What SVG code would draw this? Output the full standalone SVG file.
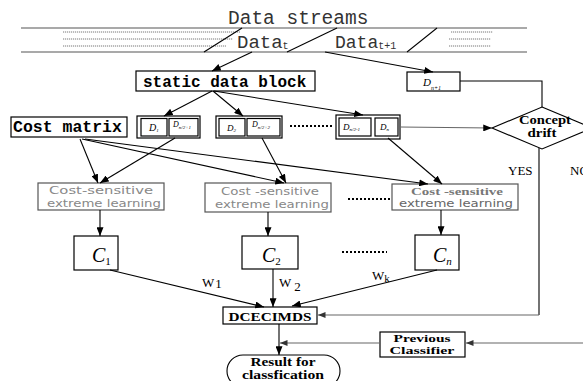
<svg xmlns="http://www.w3.org/2000/svg" width="583" height="381" viewBox="0 0 583 381">
  <style>
    .box { fill: #fff; stroke: #000; stroke-width: 1.2; }
    .gbox { fill: #fff; stroke: #555; stroke-width: 1.2; }
    .ln { fill: none; stroke: #000; stroke-width: 1.1; }
    .gln { fill: none; stroke: #666; stroke-width: 1.1; }
    .dots { fill: none; stroke: #555; stroke-width: 0.8; stroke-dasharray: 1.2 0.8; }
    .bdots { fill: none; stroke: #000; stroke-width: 2.2; stroke-dasharray: 2 2; }
    .mono { font-family: "Liberation Mono", "DejaVu Sans Mono", monospace; fill: #333; }
    .monob { font-family: "Liberation Mono", "DejaVu Sans Mono", monospace; font-weight: bold; fill: #000; }
    .serif { font-family: "Liberation Serif", "DejaVu Serif", serif; fill: #000; }
    .serifb { font-family: "Liberation Serif", "DejaVu Serif", serif; font-weight: bold; fill: #000; }
    .sans { font-family: "DejaVu Sans", "Liberation Sans", sans-serif; fill: #888; font-size: 11px; }
    .it { font-style: italic; }
  </style>
  <defs>
    <marker id="ah" viewBox="0 0 10 8" refX="10" refY="4" markerWidth="9" markerHeight="7" markerUnits="userSpaceOnUse" orient="auto">
      <path d="M0,0 L10,4 L0,8 z" fill="#000"/>
    </marker>
    <marker id="gah" viewBox="0 0 10 8" refX="10" refY="4" markerWidth="9" markerHeight="6" markerUnits="userSpaceOnUse" orient="auto">
      <path d="M0,0 L10,4 L0,8 z" fill="#333"/>
    </marker>
  </defs>

  <!-- data stream band -->
  <g id="stream">
    <text class="mono" x="228" y="24" font-size="19.5">Data streams</text>
    <line x1="21" y1="28" x2="527" y2="28" stroke="#555" stroke-width="1.2"/>
    <line x1="21" y1="52" x2="527" y2="52" stroke="#555" stroke-width="1.2"/>
    <path class="dots" d="M63,32 H240 M63,39 H233 M63,46 H226"/>
    <path class="dots" d="M451,32 H493 M449,39 H491 M449,46 H491"/>
    <line class="ln" x1="242" y1="28" x2="204" y2="52"/>
    <line class="ln" x1="337" y1="28" x2="287" y2="52"/>
    <line class="ln" x1="437" y1="28" x2="407" y2="52"/>
    <text class="mono" x="237" y="48" font-size="19">Data<tspan font-size="10" dy="1">t</tspan></text>
    <text class="mono" x="335" y="48" font-size="18">Data<tspan font-size="10" dy="1">t+1</tspan></text>
  </g>

  <g id="static-block">
    <rect class="box" x="136" y="71" width="179" height="20"/>
    <text class="monob" x="143" y="87" font-size="16">static data block</text>
  </g>

  <g id="d-next">
    <rect class="box" x="407" y="72" width="53" height="19"/>
    <text class="serif it" x="423" y="86" font-size="11">D<tspan font-size="6" dy="4">n+1</tspan></text>
  </g>

  <g id="cost-matrix">
    <rect class="box" x="11" y="117" width="116" height="20"/>
    <text class="monob" x="13" y="132" font-size="16.5">Cost matrix</text>
  </g>

  <g id="blocks-1">
    <rect class="box" x="137" y="116" width="63" height="22"/>
    <rect class="box" x="141" y="118.5" width="26" height="17.5"/>
    <rect class="box" x="169" y="118.5" width="29" height="17.5"/>
    <text class="serif it" x="149" y="131" font-size="10">D<tspan font-size="5" dy="1">1</tspan></text>
    <text class="serif it" x="173" y="127" font-size="8">D<tspan font-size="5" dy="2">n/2+1</tspan></text>
  </g>

  <g id="blocks-2">
    <rect class="box" x="216" y="116" width="66" height="22"/>
    <rect class="box" x="219" y="118.5" width="26" height="17.5"/>
    <rect class="box" x="247" y="118.5" width="33" height="17.5"/>
    <text class="serif it" x="227" y="131" font-size="9">D<tspan font-size="5" dy="1">2</tspan></text>
    <text class="serif it" x="252" y="127" font-size="8">D<tspan font-size="5" dy="2">n/2+2</tspan></text>
  </g>

  <g id="blocks-3">
    <rect class="box" x="336" y="115" width="64" height="24"/>
    <rect class="box" x="339" y="118" width="32" height="18"/>
    <rect class="box" x="375" y="118" width="23" height="18"/>
    <text class="serif it" x="343" y="130" font-size="9">D<tspan font-size="5" dy="1">n/2-1</tspan></text>
    <text class="serif it" x="380" y="130" font-size="9">D<tspan font-size="5" dy="1">n</tspan></text>
  </g>

  <g id="concept-drift">
    <polygon points="542,107 592,128 542,149 492,128" fill="#fff" stroke="#000" stroke-width="1.1"/>
    <text class="serifb" x="545" y="124" font-size="12" text-anchor="middle" textLength="52" lengthAdjust="spacingAndGlyphs">Concept</text>
    <text class="serifb" x="542" y="137" font-size="12" text-anchor="middle" textLength="29" lengthAdjust="spacingAndGlyphs">drift</text>
  </g>

  <g id="csel-1">
    <rect class="gbox" x="38" y="183" width="126" height="27"/>
    <text class="sans" x="101" y="194" text-anchor="middle" textLength="104" lengthAdjust="spacingAndGlyphs">Cost-sensitive</text>
    <text class="sans" x="104" y="207" text-anchor="middle" textLength="114" lengthAdjust="spacingAndGlyphs">extreme learning</text>
  </g>

  <g id="csel-2">
    <rect class="gbox" x="205" y="183" width="126" height="29"/>
    <text class="sans" x="270" y="195" text-anchor="middle" textLength="98" lengthAdjust="spacingAndGlyphs">Cost -sensitive</text>
    <text class="sans" x="272" y="208" text-anchor="middle" textLength="114" lengthAdjust="spacingAndGlyphs">extreme learning</text>
  </g>

  <g id="csel-3">
    <rect class="gbox" x="392" y="184" width="126" height="26"/>
    <text class="serifb" x="457" y="195" font-size="11" text-anchor="middle" textLength="92" lengthAdjust="spacingAndGlyphs" style="fill:#777">Cost -sensitive</text>
    <text class="sans" x="456" y="207" text-anchor="middle" textLength="114" lengthAdjust="spacingAndGlyphs" style="fill:#666">extreme learning</text>
  </g>

  <g id="c1">
    <rect class="box" x="74" y="236" width="44" height="34"/>
    <text class="serif it" x="92" y="262" font-size="20">C<tspan font-size="11" font-style="normal" dy="3">1</tspan></text>
  </g>
  <g id="c2">
    <rect class="box" x="242" y="236" width="56" height="33"/>
    <text class="serif it" x="262" y="262" font-size="20">C<tspan font-size="11" font-style="normal" dy="3">2</tspan></text>
  </g>
  <g id="cn">
    <rect class="box" x="415" y="235" width="44" height="35"/>
    <text class="serif it" x="433" y="262" font-size="20">C<tspan font-size="11" dy="3">n</tspan></text>
  </g>

  <g id="dcecimds">
    <rect class="box" x="223" y="307" width="94" height="17"/>
    <text class="serifb" x="270" y="321" font-size="11.5" text-anchor="middle" textLength="83" lengthAdjust="spacingAndGlyphs">DCECIMDS</text>
  </g>

  <g id="previous-classifier">
    <rect class="box" x="380" y="332" width="85" height="25"/>
    <text class="serifb" x="422" y="342" font-size="11" text-anchor="middle" textLength="57" lengthAdjust="spacingAndGlyphs">Previous</text>
    <text class="serifb" x="422" y="354" font-size="11" text-anchor="middle" textLength="65" lengthAdjust="spacingAndGlyphs">Classifier</text>
  </g>

  <g id="result">
    <rect x="227" y="355" width="113" height="32" rx="16" ry="16" fill="#fff" stroke="#000" stroke-width="1.1"/>
    <text class="serifb" x="283" y="366" font-size="11.5" text-anchor="middle" textLength="65" lengthAdjust="spacingAndGlyphs">Result for</text>
    <text class="serifb" x="283" y="379" font-size="11.5" text-anchor="middle" textLength="82" lengthAdjust="spacingAndGlyphs">classfication</text>
  </g>

  <!-- connectors -->
  <g id="connectors">
    <line class="ln" x1="252" y1="52" x2="212" y2="71" marker-end="url(#ah)"/>
    <line class="ln" x1="325" y1="52" x2="433" y2="72" marker-end="url(#ah)"/>
    <polyline class="ln" points="460,81 542,81 542,107"/>
    <line class="ln" x1="212" y1="91" x2="164" y2="116" marker-end="url(#ah)"/>
    <line class="ln" x1="213" y1="91" x2="243" y2="116" marker-end="url(#ah)"/>
    <line class="ln" x1="214" y1="91" x2="363" y2="115" marker-end="url(#ah)"/>
    <line class="gln" x1="400" y1="127" x2="492" y2="128" marker-end="url(#ah)"/>
    <line class="bdots" x1="290" y1="126" x2="334" y2="126"/>

    <line class="ln" x1="80" y1="139" x2="98" y2="183" marker-end="url(#ah)"/>
    <line class="ln" x1="175" y1="138" x2="100" y2="183" marker-end="url(#ah)"/>
    <line class="ln" x1="82" y1="139" x2="284" y2="183" marker-end="url(#ah)"/>
    <line class="ln" x1="262" y1="138" x2="286" y2="183" marker-end="url(#ah)"/>
    <line class="ln" x1="85" y1="139" x2="428" y2="184" marker-end="url(#ah)"/>
    <line class="ln" x1="388" y1="138" x2="442" y2="184" marker-end="url(#ah)"/>
    <line class="bdots" x1="348" y1="199" x2="391" y2="199"/>

    <line class="ln" x1="100" y1="210" x2="100" y2="236" marker-end="url(#ah)"/>
    <line class="ln" x1="268" y1="212" x2="268" y2="236" marker-end="url(#ah)"/>
    <line class="ln" x1="441" y1="210" x2="441" y2="235" marker-end="url(#ah)"/>
    <line class="bdots" x1="342" y1="252" x2="387" y2="252"/>

    <line class="ln" x1="110" y1="270" x2="264" y2="307" marker-end="url(#ah)"/>
    <line class="ln" x1="273" y1="269" x2="273" y2="307" marker-end="url(#ah)"/>
    <line class="ln" x1="437" y1="270" x2="292" y2="306" marker-end="url(#ah)"/>
    <text class="serif" x="202" y="287" font-size="13">W<tspan dx="1" dy="1">1</tspan></text>
    <text class="serif" x="279" y="287" font-size="13">W<tspan dx="3" dy="4">2</tspan></text>
    <text class="serif" x="372" y="280" font-size="13">W<tspan font-size="11" dy="2">k</tspan></text>

    <line class="ln" x1="539" y1="148" x2="539" y2="315"/>
    <line class="gln" x1="539" y1="315" x2="318" y2="315" marker-end="url(#gah)"/>
    <text class="serif" x="508" y="175" font-size="13">YES</text>
    <text class="serif" x="570" y="175" font-size="13">NO</text>

    <line class="gln" x1="583" y1="343" x2="466" y2="343" marker-end="url(#gah)"/>
    <line class="gln" x1="380" y1="343" x2="280" y2="343" marker-end="url(#gah)"/>
    <line class="ln" x1="279" y1="324" x2="279" y2="355" marker-end="url(#ah)"/>
  </g>
</svg>
